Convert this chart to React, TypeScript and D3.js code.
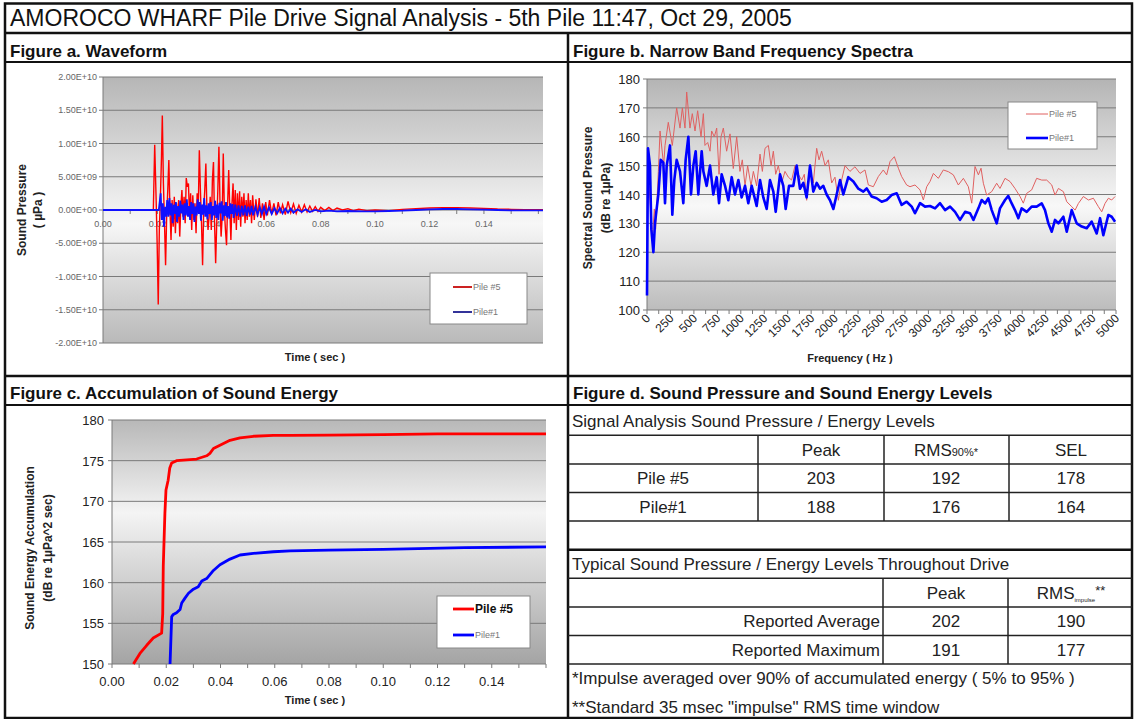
import React from "react";
import * as d3 from "d3";

const FONT = "'Liberation Sans', Arial, Helvetica, sans-serif";

// ---------- Figure a: waveform (values in 1e9 µPa) ----------
const WAVE5_T = [0, 0.0185, 0.019, 0.0195, 0.0199, 0.0203, 0.0207, 0.0211, 0.0215, 0.0218, 0.0222, 0.0226, 0.023, 0.0234, 0.0238, 0.0242, 0.0246, 0.025, 0.0254, 0.0258, 0.0262, 0.0266, 0.027, 0.0274, 0.0278, 0.0282, 0.0286, 0.029, 0.0294, 0.0298, 0.0302, 0.0306, 0.031, 0.0314, 0.0318, 0.0322, 0.0326, 0.033, 0.0334, 0.0338, 0.0342, 0.0346, 0.035, 0.0354, 0.0358, 0.0362, 0.0366, 0.037, 0.0374, 0.0378, 0.0382, 0.0386, 0.039, 0.0394, 0.0398, 0.0402, 0.0406, 0.041, 0.0414, 0.0418, 0.0422, 0.0426, 0.043, 0.0434, 0.0438, 0.0442, 0.0446, 0.045, 0.0454, 0.0458, 0.0462, 0.0466, 0.047, 0.0474, 0.0478, 0.0482, 0.0486, 0.049, 0.0494, 0.0498, 0.0502, 0.0506, 0.051, 0.0514, 0.0518, 0.0522, 0.0526, 0.053, 0.0534, 0.0538, 0.0542, 0.0546, 0.055, 0.0556, 0.0562, 0.0568, 0.0574, 0.058, 0.0586, 0.0592, 0.0598, 0.0604, 0.0612, 0.062, 0.0628, 0.0636, 0.0644, 0.0652, 0.066, 0.067, 0.068, 0.069, 0.07, 0.071, 0.072, 0.073, 0.074, 0.075, 0.076, 0.077, 0.078, 0.079, 0.08, 0.0815, 0.083, 0.0845, 0.086, 0.088, 0.09, 0.092, 0.094, 0.097, 0.1, 0.105, 0.11, 0.115, 0.12, 0.125, 0.13, 0.135, 0.14, 0.145, 0.15, 0.155, 0.1617];
const WAVE5_V = [0, 0, 9.8, 2, -5, -14.2, -3, 2, 8, 14.2, 4, -2, -8.3, -1, 3, 7.5, 0, -4.5, 1.5, -2.5, 2, -3.5, 1, -2, 1.5, -4, 0.5, 3, -1, 2, -2, 4.8, 3.5, 4, -1, 2.5, -3, 2.2, -1.5, 1, -3.5, 2.5, 0, 9, 3, -2, -8.3, 0, 3, 7, 0, -3, -1, 2, -3, 4.5, 7.2, -2, -8, -2, 3, 9.5, 1, -4, -1, 8.5, 0, -3, -5.3, 1, 6, 0, -4.5, 1, 4, -2, 3, -3, 2.5, -1.5, 2.8, -2.5, 2, -1, 2.5, -2, 1.5, -1.5, 2.5, -1, 1.5, -2, 2.2, -1.5, 1.6, -1, 1.8, -1.2, 1, -1.5, 1.2, -0.8, 1.5, -0.6, 1, -0.8, 1.2, -0.5, 0.8, -0.7, 1.3, -0.4, 0.9, -0.5, 0.7, -0.3, 0.8, -0.3, 0.6, -0.2, 0.5, -0.2, 0.4, -0.1, 0.4, -0.1, 0.3, 0, 0.2, -0.1, 0.1, -0.1, 0, -0.1, 0.1, 0.2, 0.3, 0.35, 0.35, 0.3, 0.25, 0.15, 0.1, 0.05, 0.05];

const WAVE1_T = [0, 0.0205, 0.0212, 0.0216, 0.022, 0.0224, 0.0228, 0.0232, 0.0236, 0.024, 0.0244, 0.0248, 0.0252, 0.0256, 0.026, 0.0264, 0.0268, 0.0272, 0.0276, 0.028, 0.0284, 0.0288, 0.0292, 0.0296, 0.03, 0.0304, 0.0308, 0.0312, 0.0316, 0.032, 0.0324, 0.0328, 0.0332, 0.0336, 0.034, 0.0344, 0.0348, 0.0352, 0.0356, 0.036, 0.0364, 0.0368, 0.0372, 0.0376, 0.038, 0.0384, 0.0388, 0.0392, 0.0396, 0.04, 0.0404, 0.0408, 0.0412, 0.0416, 0.042, 0.0424, 0.0428, 0.0432, 0.0436, 0.044, 0.0444, 0.0448, 0.0452, 0.0456, 0.046, 0.0464, 0.0468, 0.0472, 0.0476, 0.048, 0.0486, 0.0492, 0.0498, 0.0504, 0.051, 0.0516, 0.0522, 0.0528, 0.0534, 0.054, 0.0546, 0.0552, 0.056, 0.0568, 0.0576, 0.0584, 0.0592, 0.06, 0.061, 0.062, 0.063, 0.064, 0.065, 0.066, 0.067, 0.068, 0.069, 0.07, 0.0715, 0.073, 0.0745, 0.076, 0.078, 0.08, 0.083, 0.086, 0.09, 0.095, 0.1, 0.105, 0.11, 0.115, 0.12, 0.125, 0.13, 0.135, 0.14, 0.145, 0.15, 0.155, 0.1617];
const WAVE1_V = [0, 0, 2.5, -1.5, 1, -2.5, 0.5, -1, 1.5, -1, 1.8, -0.8, 1, -2, 0.8, -0.6, 1.2, -1.8, 0.6, -1, 1.4, -0.5, 0.8, -1.5, 1, -0.8, 1.6, -1, 0.6, -1.5, 1.2, -0.6, 1, -1.8, 0.5, -0.8, 1.6, -0.6, 1.2, -1.6, 0.8, -0.7, 1.8, -1, 0.7, -1.4, 1, -0.6, 1.2, -1.5, 0.6, -0.8, 1.4, -1.2, 0.8, -1.5, 1.1, -0.5, 1.3, -1.6, 0.7, -0.9, 1.2, -1.1, 0.6, -1.3, 1, -0.6, 0.9, -1.2, 0.8, -0.9, 0.7, -1, 0.6, -0.8, 0.7, -0.9, 0.5, -0.7, 0.6, -0.8, 0.5, -0.7, 0.4, -0.6, 0.5, -0.6, 0.4, -0.6, 0.3, -0.5, 0.3, -0.5, 0.2, -0.4, 0.2, -0.4, 0.1, -0.3, 0.1, -0.3, 0, -0.2, -0.1, -0.2, -0.15, -0.2, -0.2, -0.15, -0.1, 0, 0.1, 0.15, 0.15, 0.1, 0.05, 0, -0.05, -0.05, -0.05];

const WAVE_Y_TICKS = [20, 15, 10, 5, 0, -5, -10, -15, -20];
const WAVE_X_LABELS = [0, 0.02, 0.04, 0.06, 0.08, 0.1, 0.12, 0.14];
const WAVE_X_MINOR = [0.01, 0.02, 0.03, 0.04, 0.05, 0.06, 0.07, 0.08, 0.09, 0.1, 0.11, 0.12, 0.13, 0.14, 0.15, 0.16];

// ---------- Figure b: spectra ----------
const SPEC5_F = [7, 32, 57, 78, 92, 121, 139, 178, 192, 227, 270, 316, 352, 377, 405, 423, 458, 483, 512, 540, 576, 601, 618, 647, 672, 689, 718, 743, 768, 789, 814, 849, 885, 920, 956, 991, 1016, 1045, 1073, 1109, 1134, 1169, 1205, 1230, 1258, 1294, 1322, 1347, 1372, 1400, 1436, 1471, 1507, 1542, 1578, 1613, 1649, 1677, 1702, 1738, 1773, 1809, 1834, 1862, 1898, 1933, 1969, 2004, 2040, 2075, 2111, 2164, 2217, 2271, 2324, 2360, 2413, 2466, 2519, 2555, 2591, 2637, 2680, 2715, 2768, 2804, 2857, 2911, 2946, 2982, 3017, 3053, 3106, 3159, 3213, 3266, 3319, 3373, 3426, 3462, 3497, 3533, 3561, 3586, 3621, 3675, 3728, 3763, 3817, 3870, 3923, 3977, 4012, 4048, 4101, 4154, 4208, 4261, 4315, 4350, 4386, 4439, 4475, 4528, 4564, 4599, 4652, 4706, 4759, 4812, 4848, 4883, 4919, 4954, 4990];
const SPEC5_DB = [150, 138, 125, 135, 128, 148, 162, 150, 157, 165, 157, 170, 163, 170, 163, 175.5, 163, 168, 162, 169, 160, 168, 157, 158, 155, 162, 160, 163, 147, 160, 163, 155, 161, 149, 160, 148, 152, 143, 150, 143, 148, 143, 154, 148, 156, 157, 150, 155, 147, 150, 144, 148, 146, 145, 150, 147, 145, 147, 138, 148, 144, 156, 152, 155, 150, 152, 144, 146, 138, 145, 150, 148, 149.6, 147.3, 148.5, 143.3, 142.7, 146.2, 148.5, 146.8, 151.4, 153.1, 149.1, 146.2, 143.3, 142.7, 143.3, 141.6, 138.1, 142.7, 144.5, 147.3, 145.6, 148.5, 147.9, 146.8, 143.3, 145.6, 142.7, 137, 149.7, 146.8, 149.1, 143.9, 139.8, 141, 143.9, 142.1, 145.6, 144.5, 142.1, 139.3, 137, 140.4, 141.6, 145.6, 145, 145, 143.3, 139.8, 142.1, 141, 137.5, 135.8, 134.6, 136.9, 139.3, 138.1, 138.7, 135.8, 134, 136.9, 138.7, 138.1, 139.3];

const SPEC1_F = [0, 11, 32, 46, 68, 85, 103, 121, 146, 174, 192, 210, 245, 270, 291, 316, 352, 387, 412, 441, 469, 494, 519, 547, 583, 601, 636, 672, 707, 743, 768, 796, 832, 867, 903, 938, 974, 1009, 1045, 1080, 1116, 1169, 1205, 1240, 1276, 1311, 1347, 1372, 1418, 1453, 1478, 1514, 1560, 1596, 1631, 1667, 1702, 1738, 1773, 1809, 1844, 1880, 1915, 1951, 1987, 2022, 2058, 2093, 2146, 2200, 2253, 2306, 2342, 2395, 2448, 2502, 2555, 2608, 2662, 2715, 2768, 2822, 2857, 2911, 2964, 3017, 3071, 3124, 3177, 3231, 3284, 3337, 3391, 3444, 3480, 3533, 3568, 3604, 3639, 3675, 3728, 3763, 3817, 3852, 3888, 3923, 3959, 3994, 4048, 4101, 4154, 4208, 4243, 4279, 4315, 4350, 4386, 4439, 4475, 4528, 4581, 4635, 4688, 4741, 4794, 4830, 4865, 4918, 4954, 4990];
const SPEC1_DB = [105, 156, 150, 128, 120, 130, 135, 140, 152, 151, 137, 150, 157, 133, 145, 152, 148, 137, 152, 160, 140, 150, 155, 140, 155, 148, 143, 150, 140, 146, 137, 147, 143, 138, 146, 140, 145, 139, 143, 137, 143, 136, 145, 139, 135, 145, 141, 134, 147, 143, 135, 143, 143, 150, 142, 144, 139, 150, 141, 144, 142, 143, 140, 138, 135, 140, 145, 140, 146, 144.5, 142, 141, 142.1, 139.3, 138.7, 137.5, 138.1, 139.8, 140.4, 136.4, 137.5, 135.8, 133.5, 137, 135.8, 136, 135.2, 137, 134.6, 135.8, 134, 131.2, 134, 133.5, 131.2, 135.2, 138.1, 136.9, 138.7, 134.6, 130, 135.2, 138.1, 139.5, 136.9, 134.6, 131.8, 135.2, 134, 135.8, 135.8, 136.9, 134.6, 130, 127.1, 131.2, 130, 132.3, 127.1, 134.6, 130, 128.9, 128.3, 130.6, 126.5, 131.8, 125.9, 132.9, 132.3, 130.6];

const SPEC_Y_TICKS = [100, 110, 120, 130, 140, 150, 160, 170, 180];
const SPEC_X_LABELS = [0, 250, 500, 750, 1000, 1250, 1500, 1750, 2000, 2250, 2500, 2750, 3000, 3250, 3500, 3750, 4000, 4250, 4500, 4750, 5000];
const SPEC_X_MINOR = [125, 375, 625, 875, 1125, 1375, 1625, 1875, 2125, 2375, 2625, 2875, 3125, 3375, 3625, 3875, 4125, 4375, 4625, 4875];

// ---------- Figure c: energy accumulation ----------
const ACC5_T = [0.0079, 0.0103, 0.0128, 0.0152, 0.0183, 0.0187, 0.0189, 0.0195, 0.0199, 0.0207, 0.0213, 0.022, 0.0238, 0.0275, 0.0312, 0.0349, 0.0361, 0.0374, 0.0398, 0.0435, 0.0472, 0.0521, 0.0595, 0.0657, 0.08, 0.1, 0.12, 0.14, 0.16];
const ACC5_DB = [150, 151.3, 152.3, 153.2, 153.8, 156.2, 162, 168.5, 171.4, 172.6, 174.1, 174.7, 175, 175.1, 175.2, 175.6, 175.9, 176.5, 176.9, 177.5, 177.8, 178, 178.1, 178.1, 178.15, 178.2, 178.3, 178.3, 178.3];
const ACC1_T = [0.0214, 0.022, 0.0226, 0.0238, 0.0251, 0.0257, 0.0269, 0.0282, 0.03, 0.0318, 0.0331, 0.0349, 0.0374, 0.0398, 0.0435, 0.0472, 0.0521, 0.0595, 0.0657, 0.08, 0.1, 0.13, 0.16];
const ACC1_DB = [150, 155.8, 156.1, 156.3, 156.7, 157.5, 158.1, 158.7, 159.2, 159.5, 160.2, 160.5, 161.5, 162.2, 162.9, 163.4, 163.6, 163.8, 163.9, 164, 164.1, 164.3, 164.4];
const ACC_Y_TICKS = [150, 155, 160, 165, 170, 175, 180];
const ACC_X_LABELS = [0, 0.02, 0.04, 0.06, 0.08, 0.1, 0.12, 0.14];
const ACC_X_MINOR = [0, 0.01, 0.02, 0.03, 0.04, 0.05, 0.06, 0.07, 0.08, 0.09, 0.1, 0.11, 0.12, 0.13, 0.14, 0.15, 0.16];

// ---------- Figure d: tables ----------
const T1_ROWS = ["Pile #5", "Pile#1"];
const T1_VALUES = [[203, 192, 178], [188, 176, 164]];
const T2_ROWS = ["Reported Average", "Reported Maximum"];
const T2_VALUES = [[202, 190], [191, 177]];

const SERIES_NAMES = ["Pile #5", "Pile#1"];

function sci(v: number): string {
  const s = (v * 1e9).toExponential(2);
  const [m, e] = s.split("e");
  const sign = e[0] === "-" ? "-" : "+";
  const digits = e.replace(/[+-]/, "").padStart(2, "0");
  return `${m}E${sign}${digits}`;
}

function zip(a: number[], b: number[]): [number, number][] {
  return a.map((t, i) => [t, b[i]]);
}

export default function App() {
  const fmt2 = d3.format(".2f");

  // ---- Panel a ----
  const ax = d3.scaleLinear().domain([0, 0.1617]).range([103, 543]);
  const ay = d3.scaleLinear().domain([-20, 20]).range([343, 77]);
  const waveLine = d3.line<[number, number]>().x((d) => ax(d[0])).y((d) => ay(d[1]));

  // ---- Panel b ----
  const bx = d3.scaleLinear().domain([0, 5000]).range([647, 1116]);
  const by = d3.scaleLinear().domain([100, 180]).range([310, 79]);
  const specLine = d3.line<[number, number]>().x((d) => bx(d[0])).y((d) => by(d[1]));

  // ---- Panel c ----
  const cx = d3.scaleLinear().domain([0, 0.16]).range([112, 546]);
  const cy = d3.scaleLinear().domain([150, 180]).range([664, 420]);
  const accLine = d3.line<[number, number]>().x((d) => cx(d[0])).y((d) => Math.min(cy(d[1]), 664));

  const tableY0 = 421;
  const rowH = 28.6;
  const rowY = (i: number) => tableY0 + i * rowH;
  const lineY = (i: number) => tableY0 + i * rowH - rowH / 2;
  const t1Cols = [821, 946, 1071];
  const t2Cols = [946, 1071];

  const txt = "#222";
  const grid = "#7a7a7a";

  return (
    <svg width={1134} height={719} style={{ position: "absolute", left: 0, top: 0, background: "#fff" }} fontFamily={FONT}>
      <defs>
        <linearGradient id="gA" x1="0" y1="0" x2="0" y2="1">
          <stop offset="0" stopColor="#b6b6b6" />
          <stop offset="0.55" stopColor="#f7f7f7" />
          <stop offset="1" stopColor="#b9b9b9" />
        </linearGradient>
        <linearGradient id="gB" x1="0" y1="0" x2="0" y2="1">
          <stop offset="0" stopColor="#b4b4b4" />
          <stop offset="0.55" stopColor="#f8f8f8" />
          <stop offset="1" stopColor="#bcbcbc" />
        </linearGradient>
        <linearGradient id="gC" x1="0" y1="0" x2="0" y2="1">
          <stop offset="0" stopColor="#b8b8b8" />
          <stop offset="0.38" stopColor="#f4f4f4" />
          <stop offset="1" stopColor="#a4a4a4" />
        </linearGradient>
      </defs>

      {/* ---------- frame ---------- */}
      <rect x={5} y={3.5} width={1127} height={714.5} fill="none" stroke="#111" strokeWidth={2.5} />
      <line x1={5} x2={1132} y1={33} y2={33} stroke="#111" strokeWidth={2.5} />
      <line x1={5} x2={1132} y1={62} y2={62} stroke="#111" strokeWidth={2} />
      <line x1={568} x2={568} y1={33} y2={718} stroke="#111" strokeWidth={2.5} />
      <line x1={5} x2={1132} y1={376} y2={376} stroke="#111" strokeWidth={2.5} />
      <line x1={5} x2={1132} y1={405} y2={405} stroke="#111" strokeWidth={2} />

      <text x={10} y={26} fontSize={23} fill="#111">AMOROCO WHARF Pile Drive Signal Analysis - 5th Pile 11:47, Oct 29, 2005</text>
      <text x={10} y={57} fontSize={17} fontWeight="bold" fill="#111">Figure a. Waveform</text>
      <text x={573} y={57} fontSize={17} fontWeight="bold" fill="#111">Figure b. Narrow Band Frequency Spectra</text>
      <text x={10} y={399} fontSize={17} fontWeight="bold" fill="#111">Figure c. Accumulation of Sound Energy</text>
      <text x={573} y={399} fontSize={17} fontWeight="bold" fill="#111">Figure d. Sound Pressure and Sound Energy Levels</text>

      {/* ---------- Panel a ---------- */}
      <rect x={ax(0)} y={ay(20)} width={ax(0.1617) - ax(0)} height={ay(-20) - ay(20)} fill="url(#gA)" />
      {WAVE_Y_TICKS.map((v) => (
        <g key={"ay" + v}>
          <line x1={ax(0)} x2={ax(0.1617)} y1={ay(v)} y2={ay(v)} stroke={grid} strokeWidth={1} />
          <line x1={ax(0) - 4} x2={ax(0)} y1={ay(v)} y2={ay(v)} stroke={grid} />
          <text x={ax(0) - 6} y={ay(v) + 3} fontSize={9} fill="#666" textAnchor="end">{sci(v)}</text>
        </g>
      ))}
      <line x1={ax(0)} x2={ax(0)} y1={ay(20)} y2={ay(-20)} stroke={grid} />
      {WAVE_X_MINOR.map((t) => (
        <line key={"axm" + t} x1={ax(t)} x2={ax(t)} y1={ay(0)} y2={ay(0) + 4} stroke={grid} />
      ))}
      {WAVE_X_LABELS.map((t) => (
        <text key={"axl" + t} x={ax(t)} y={ay(0) + 17} fontSize={9} fill="#666" textAnchor="middle">{fmt2(t)}</text>
      ))}
      <path d={waveLine(zip(WAVE5_T, WAVE5_V)) || ""} fill="none" stroke="#ff0000" strokeWidth={1.4} />
      <path d={waveLine(zip(WAVE1_T, WAVE1_V)) || ""} fill="none" stroke="#1010ff" strokeWidth={1.8} />
      <text transform="translate(26,210) rotate(-90)" fontSize={12} fontWeight="bold" fill={txt} textAnchor="middle">Sound Pressure</text>
      <text transform="translate(42,210) rotate(-90)" fontSize={12} fontWeight="bold" fill={txt} textAnchor="middle">( µPa )</text>
      <text x={315} y={361} fontSize={11} fontWeight="bold" fill={txt} textAnchor="middle">Time ( sec )</text>
      <rect x={430} y={273} width={97} height={51} fill="#fff" stroke="#888" />
      <line x1={453} x2={472} y1={287} y2={287} stroke="#cc2222" strokeWidth={2} />
      <text x={473} y={290} fontSize={9} fill="#777">{SERIES_NAMES[0]}</text>
      <line x1={453} x2={472} y1={312} y2={312} stroke="#333399" strokeWidth={2} />
      <text x={473} y={315} fontSize={9} fill="#777">{SERIES_NAMES[1]}</text>

      {/* ---------- Panel b ---------- */}
      <rect x={bx(0)} y={by(180)} width={bx(5000) - bx(0)} height={by(100) - by(180)} fill="url(#gB)" />
      {SPEC_Y_TICKS.map((v) => (
        <g key={"by" + v}>
          <line x1={bx(0)} x2={bx(5000)} y1={by(v)} y2={by(v)} stroke={grid} />
          <line x1={bx(0) - 4} x2={bx(0)} y1={by(v)} y2={by(v)} stroke={grid} />
          <text x={bx(0) - 7} y={by(v) + 5} fontSize={13} fill={txt} textAnchor="end">{v}</text>
        </g>
      ))}
      <line x1={bx(0)} x2={bx(0)} y1={by(180)} y2={by(100)} stroke={grid} />
      {SPEC_X_LABELS.map((f) => (
        <g key={"bxl" + f}>
          <line x1={bx(f)} x2={bx(f)} y1={by(100)} y2={by(100) + 4} stroke={grid} />
          <text transform={`translate(${bx(f) + 4},${by(100) + 9}) rotate(-45)`} fontSize={12} fill={txt} textAnchor="end">{f}</text>
        </g>
      ))}
      {SPEC_X_MINOR.map((f) => (
        <line key={"bxm" + f} x1={bx(f)} x2={bx(f)} y1={by(100)} y2={by(100) + 4} stroke={grid} />
      ))}
      <path d={specLine(zip(SPEC5_F, SPEC5_DB)) || ""} fill="none" stroke="#e06060" strokeWidth={1} />
      <path d={specLine(zip(SPEC1_F, SPEC1_DB)) || ""} fill="none" stroke="#0000ff" strokeWidth={2.6} strokeLinejoin="round" />
      <text transform="translate(592,198) rotate(-90)" fontSize={12} fontWeight="bold" fill={txt} textAnchor="middle">Spectral Sound Pressure</text>
      <text transform="translate(610,198) rotate(-90)" fontSize={12} fontWeight="bold" fill={txt} textAnchor="middle">(dB re 1µPa)</text>
      <text x={850} y={362} fontSize={11} fontWeight="bold" fill={txt} textAnchor="middle">Frequency ( Hz )</text>
      <rect x={1008} y={102} width={89} height={47} fill="#fff" stroke="#888" />
      <line x1={1026} x2={1048} y1={114} y2={114} stroke="#e06060" strokeWidth={1} />
      <text x={1049} y={117} fontSize={9} fill="#777">{SERIES_NAMES[0]}</text>
      <line x1={1026} x2={1048} y1={138} y2={138} stroke="#0000ff" strokeWidth={2.6} />
      <text x={1049} y={141} fontSize={9} fill="#777">{SERIES_NAMES[1]}</text>

      {/* ---------- Panel c ---------- */}
      <rect x={cx(0)} y={cy(180)} width={cx(0.16) - cx(0)} height={cy(150) - cy(180)} fill="url(#gC)" />
      {ACC_Y_TICKS.map((v) => (
        <g key={"cy" + v}>
          <line x1={cx(0)} x2={cx(0.16)} y1={cy(v)} y2={cy(v)} stroke={grid} />
          <line x1={cx(0) - 4} x2={cx(0)} y1={cy(v)} y2={cy(v)} stroke={grid} />
          <text x={cx(0) - 8} y={cy(v) + 5} fontSize={13} fill={txt} textAnchor="end">{v}</text>
        </g>
      ))}
      <line x1={cx(0)} x2={cx(0)} y1={cy(180)} y2={cy(150)} stroke={grid} />
      {ACC_X_MINOR.map((t) => (
        <line key={"cxm" + t} x1={cx(t)} x2={cx(t)} y1={cy(150)} y2={cy(150) + 4} stroke={grid} />
      ))}
      {ACC_X_LABELS.map((t) => (
        <text key={"cxl" + t} x={cx(t)} y={cy(150) + 22} fontSize={13} fill={txt} textAnchor="middle">{fmt2(t)}</text>
      ))}
      <path d={accLine(zip(ACC5_T, ACC5_DB)) || ""} fill="none" stroke="#ff0000" strokeWidth={2.8} strokeLinejoin="round" />
      <path d={accLine(zip(ACC1_T, ACC1_DB)) || ""} fill="none" stroke="#0000ff" strokeWidth={2.8} strokeLinejoin="round" />
      <text transform="translate(34,548) rotate(-90)" fontSize={12} fontWeight="bold" fill={txt} textAnchor="middle">Sound Energy Accumulation</text>
      <text transform="translate(52,548) rotate(-90)" fontSize={12} fontWeight="bold" fill={txt} textAnchor="middle">(dB re 1µPa^2 sec)</text>
      <text x={315} y={704} fontSize={11} fontWeight="bold" fill={txt} textAnchor="middle">Time ( sec )</text>
      <rect x={437} y={596} width={93} height={52} fill="#fff" stroke="#888" />
      <line x1={453} x2={474} y1={609} y2={609} stroke="#ff0000" strokeWidth={2.8} />
      <text x={475} y={613} fontSize={12} fontWeight="bold" fill="#111">{SERIES_NAMES[0]}</text>
      <line x1={453} x2={474} y1={635} y2={635} stroke="#0000ff" strokeWidth={2.8} />
      <text x={475} y={638} fontSize={9} fill="#777">{SERIES_NAMES[1]}</text>

      {/* ---------- Panel d: tables ---------- */}
      <g fontSize={17} fill={txt}>
        <text x={572} y={rowY(0) + 6}>Signal Analysis Sound Pressure / Energy Levels</text>
        {[1, 2, 3, 4].map((i) => (
          <line key={"t1h" + i} x1={568} x2={1132} y1={lineY(i)} y2={lineY(i)} stroke="#222" strokeWidth={1.5} />
        ))}
        {[758, 884, 1009].map((x) => (
          <line key={"t1v" + x} x1={x} x2={x} y1={lineY(1)} y2={lineY(4)} stroke="#222" strokeWidth={1.5} />
        ))}
        <text x={t1Cols[0]} y={rowY(1) + 6} textAnchor="middle">Peak</text>
        <text x={t1Cols[1]} y={rowY(1) + 6} textAnchor="middle">
          RMS<tspan fontSize={11}>90%*</tspan>
        </text>
        <text x={t1Cols[2]} y={rowY(1) + 6} textAnchor="middle">SEL</text>
        {T1_ROWS.map((r, i) => (
          <g key={"t1r" + r}>
            <text x={663} y={rowY(2 + i) + 6} textAnchor="middle">{r}</text>
            {T1_VALUES[i].map((v, j) => (
              <text key={j} x={t1Cols[j]} y={rowY(2 + i) + 6} textAnchor="middle">{v}</text>
            ))}
          </g>
        ))}
        <line x1={568} x2={1132} y1={lineY(5)} y2={lineY(5)} stroke="#111" strokeWidth={2.5} />
        <text x={572} y={rowY(5) + 6}>Typical Sound Pressure / Energy Levels Throughout Drive</text>
        {[6, 7, 8, 9].map((i) => (
          <line key={"t2h" + i} x1={568} x2={1132} y1={lineY(i)} y2={lineY(i)} stroke="#222" strokeWidth={1.5} />
        ))}
        {[883, 1008].map((x) => (
          <line key={"t2v" + x} x1={x} x2={x} y1={lineY(6)} y2={lineY(9)} stroke="#222" strokeWidth={1.5} />
        ))}
        <text x={t2Cols[0]} y={rowY(6) + 6} textAnchor="middle">Peak</text>
        <text x={t2Cols[1]} y={rowY(6) + 6} textAnchor="middle">
          RMS<tspan fontSize={6} dy={3}>impulse</tspan><tspan fontSize={13} dy={-7}>**</tspan>
        </text>
        {T2_ROWS.map((r, i) => (
          <g key={"t2r" + r}>
            <text x={880} y={rowY(7 + i) + 6} textAnchor="end">{r}</text>
            {T2_VALUES[i].map((v, j) => (
              <text key={j} x={t2Cols[j]} y={rowY(7 + i) + 6} textAnchor="middle">{v}</text>
            ))}
          </g>
        ))}
        <text x={572} y={rowY(9) + 6}>*Impulse averaged over 90% of accumulated energy ( 5% to 95% )</text>
        <text x={572} y={rowY(10) + 6}>**Standard 35 msec "impulse" RMS time window</text>
      </g>
    </svg>
  );
}
